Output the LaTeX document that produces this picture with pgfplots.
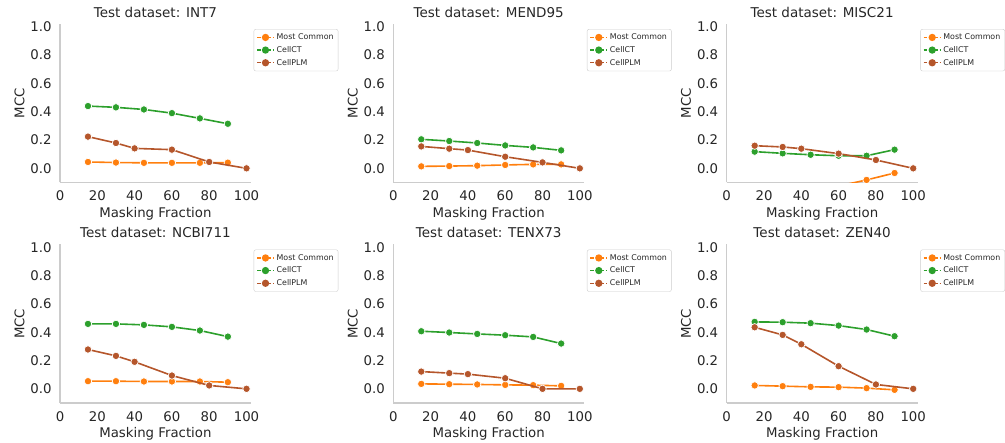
\documentclass[border=0pt]{standalone}
\usepackage{pgfplots}
\pgfplotsset{compat=1.18}
\usepackage{fontspec}
\setmainfont{DejaVu Sans}
\definecolor{cOr}{HTML}{FF7F0E}
\definecolor{cGr}{HTML}{2CA02C}
\definecolor{cBr}{HTML}{B5562B}
\definecolor{spine}{HTML}{CCCCCC}
\definecolor{txt}{HTML}{262626}
\pgfplotsset{
  panel/.style={
    scale only axis, width=190.8pt, height=158.5pt,
    xmin=0, xmax=102.3, ymin=-0.1, ymax=1.02,
    axis x line*=bottom, axis y line*=left,
    axis line style={draw=spine, line width=1.2pt, -},
    major tick length=0pt,
    xtick={0,20,40,60,80,100}, ytick={0,0.2,0.4,0.6,0.8,1.0},
    /pgf/number format/assume math mode=true,
    yticklabel style={/pgf/number format/.cd, fixed, fixed zerofill, precision=1},
    tick label style={font=\fontsize{13.3}{15}\selectfont, text=txt},
    xticklabel shift=5pt, yticklabel shift=5pt,
    label style={font=\fontsize{13.3}{15}\selectfont, text=txt},
    xlabel={Masking Fraction}, ylabel={MCC},
    xlabel style={yshift=1pt}, ylabel style={yshift=-1pt},
    title style={font=\fontsize{13.5}{15}\selectfont, text=txt, yshift=-3pt},
    clip marker paths=true,
    every axis plot/.append style={line width=1.6pt, mark=*, mark size=3.7pt, mark options={draw=white, line width=0.7pt, solid}},
    legend style={font=\fontsize{7.9}{9.5}\selectfont, draw=spine, rounded corners=2pt,
      at={(1.015,0.968)}, anchor=north west, row sep=1.2pt, inner sep=2.5pt,
      text=txt},
    legend cell align=left,
    legend image code/.code={
      \draw[#1, line width=1.3pt, dash pattern=on 3.5pt off 1.8pt] (0pt,0pt) -- (17pt,0pt);
      \fill[#1] (8.5pt,0pt) circle (2.8pt);
    },
  },
}
\begin{document}
\begin{tikzpicture}
\useasboundingbox (0,0) rectangle (1005pt,443pt);
% INT7
\begin{axis}[panel, at={(60pt,260.5pt)}, anchor=south west, title={Test dataset: INT7}]
\addplot[cOr] coordinates {(15,0.045) (30,0.041) (45,0.039) (60,0.039) (75,0.039) (90,0.040)};
\addplot[cGr] coordinates {(15,0.440) (30,0.431) (45,0.416) (60,0.390) (75,0.353) (90,0.315)};
\addplot[cBr] coordinates {(15,0.224) (30,0.179) (40,0.141) (60,0.132) (80,0.045) (100,0.0)};
\legend{Most Common, CellCT, CellPLM}
\end{axis}
% MEND95
\begin{axis}[panel, at={(393.3pt,260.5pt)}, anchor=south west, title={Test dataset: MEND95}]
\addplot[cOr] coordinates {(15,0.014) (30,0.016) (45,0.019) (60,0.024) (75,0.028) (90,0.028)};
\addplot[cGr] coordinates {(15,0.205) (30,0.193) (45,0.179) (60,0.162) (75,0.148) (90,0.127)};
\addplot[cBr] coordinates {(15,0.155) (30,0.139) (40,0.129) (60,0.082) (80,0.042) (100,0.0)};
\legend{Most Common, CellCT, CellPLM}
\end{axis}
% MISC21
\begin{axis}[panel, at={(726.7pt,260.5pt)}, anchor=south west, title={Test dataset: MISC21}]
\addplot[cOr] coordinates {(15,-0.22) (30,-0.19) (45,-0.16) (60,-0.125) (75,-0.082) (90,-0.033)};
\addplot[cGr] coordinates {(15,0.118) (30,0.106) (45,0.096) (60,0.089) (75,0.089) (90,0.132)};
\addplot[cBr] coordinates {(15,0.160) (30,0.151) (40,0.139) (60,0.104) (80,0.059) (100,0.0)};
\legend{Most Common, CellCT, CellPLM}
\end{axis}
% NCBI711
\begin{axis}[panel, at={(60pt,40pt)}, anchor=south west, title={Test dataset: NCBI711}]
\addplot[cOr] coordinates {(15,0.054) (30,0.054) (45,0.052) (60,0.052) (75,0.052) (90,0.047)};
\addplot[cGr] coordinates {(15,0.459) (30,0.459) (45,0.452) (60,0.438) (75,0.412) (90,0.369)};
\addplot[cBr] coordinates {(15,0.278) (30,0.233) (40,0.191) (60,0.094) (80,0.024) (100,0.0)};
\legend{Most Common, CellCT, CellPLM}
\end{axis}
% TENX73
\begin{axis}[panel, at={(393.3pt,40pt)}, anchor=south west, title={Test dataset: TENX73}]
\addplot[cOr] coordinates {(15,0.035) (30,0.033) (45,0.031) (60,0.028) (75,0.026) (90,0.021)};
\addplot[cGr] coordinates {(15,0.407) (30,0.398) (45,0.388) (60,0.379) (75,0.367) (90,0.320)};
\addplot[cBr] coordinates {(15,0.122) (30,0.111) (40,0.104) (60,0.075) (80,0.0) (100,0.0)};
\legend{Most Common, CellCT, CellPLM}
\end{axis}
% ZEN40
\begin{axis}[panel, at={(726.7pt,40pt)}, anchor=south west, title={Test dataset: ZEN40}]
\addplot[cOr] coordinates {(15,0.024) (30,0.019) (45,0.014) (60,0.012) (75,0.005) (90,-0.007)};
\addplot[cGr] coordinates {(15,0.473) (30,0.471) (45,0.464) (60,0.447) (75,0.419) (90,0.372)};
\addplot[cBr] coordinates {(15,0.435) (30,0.381) (40,0.315) (60,0.160) (80,0.031) (100,0.0)};
\legend{Most Common, CellCT, CellPLM}
\end{axis}
\end{tikzpicture}
\end{document}
